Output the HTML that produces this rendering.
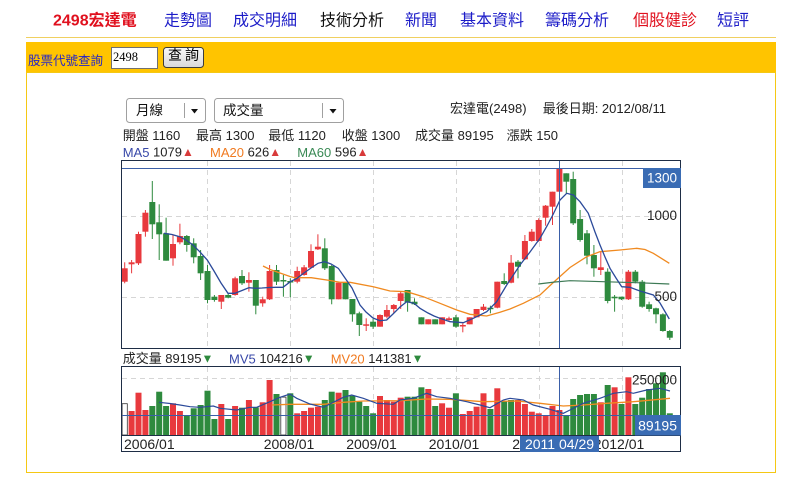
<!DOCTYPE html>
<html><head><meta charset="utf-8"><title>2498宏達電</title>
<style>
html,body{margin:0;padding:0;background:#fff;}
body{width:790px;height:482px;overflow:hidden;position:relative;}
svg{display:block;}
text{font-family:"Liberation Sans","Noto Sans CJK TC","DejaVu Sans",sans-serif;dominant-baseline:central;}
</style></head>
<body>
<svg id="s" width="790" height="482" viewBox="0 0 790 482" xmlns="http://www.w3.org/2000/svg">
<defs>
<linearGradient id="btn" x1="0" y1="0" x2="0" y2="1"><stop offset="0" stop-color="#fafafa"/><stop offset="1" stop-color="#d8d8d8"/></linearGradient>
</defs>
<rect width="790" height="482" fill="#fff"/>
<!-- nav -->
<g font-size="16">
<text x="53" y="21" fill="#e0101e" font-weight="bold">2498宏達電</text>
<text x="164" y="21" fill="#1c1cc8">走勢圖</text>
<text x="233" y="21" fill="#1c1cc8">成交明細</text>
<text x="320" y="21" fill="#111">技術分析</text>
<text x="405" y="21" fill="#1c1cc8">新聞</text>
<text x="460" y="21" fill="#1c1cc8">基本資料</text>
<text x="545" y="21" fill="#1c1cc8">籌碼分析</text>
<text x="633" y="21" fill="#e0101e">個股健診</text>
<text x="717" y="21" fill="#1c1cc8">短評</text>
</g>
<line x1="26" y1="37.5" x2="776" y2="37.5" stroke="#f0d060"/>
<rect x="26" y="42" width="750" height="31" fill="#ffc400"/>
<rect x="26.5" y="72.5" width="749" height="400" fill="none" stroke="#f5c814"/>
<text x="28" y="61" font-size="12.5" fill="#2424c8">股票代號查詢</text>
<rect x="111.5" y="47.5" width="46" height="21" fill="#fff" stroke="#707070"/>
<text x="113" y="57" font-size="12.5" fill="#000" style="font-family:'Liberation Serif',serif">2498</text>
<rect x="163.5" y="47.5" width="40" height="20" rx="3" fill="url(#btn)" stroke="#3c3c3c"/>
<text x="168" y="55" font-size="14" fill="#000">查</text>
<text x="185" y="55" font-size="14" fill="#000">詢</text>

<!-- selects -->
<rect x="126.5" y="98.5" width="79" height="24" rx="3" fill="#fff" stroke="#a0a0a0"/>
<line x1="184.5" y1="103" x2="184.5" y2="118" stroke="#a0a0a0"/>
<polygon points="191,109 198,109 194.5,113.5" fill="#111"/>
<text x="136" y="110.5" font-size="13.5" fill="#111">月線</text>
<rect x="214.5" y="98.5" width="129" height="24" rx="3" fill="#fff" stroke="#a0a0a0"/>
<line x1="322.5" y1="103" x2="322.5" y2="118" stroke="#a0a0a0"/>
<polygon points="329.5,109 336.5,109 333,113.5" fill="#111"/>
<text x="223" y="110.5" font-size="13.5" fill="#111">成交量</text>

<g font-size="13" fill="#222">
<text x="450" y="108.5">宏達電(2498)</text>
<text x="542.7" y="108.5">最後日期: 2012/08/11</text>
<text x="122.7" y="135.5">開盤 1160</text>
<text x="196" y="135.5">最高 1300</text>
<text x="268.3" y="135.5">最低 1120</text>
<text x="341.7" y="135.5">收盤 1300</text>
<text x="415" y="135.5">成交量 89195</text>
<text x="506.7" y="135.5">漲跌 150</text>
<text x="122.7" y="152"><tspan fill="#3848a8">MA5</tspan> 1079<tspan fill="#d83a3a" font-size="12">▲</tspan></text>
<text x="210" y="152"><tspan fill="#f07a20">MA20</tspan> 626<tspan fill="#d83a3a" font-size="12">▲</tspan></text>
<text x="297.3" y="152"><tspan fill="#3a8a55">MA60</tspan> 596<tspan fill="#d83a3a" font-size="12">▲</tspan></text>
<text x="122.7" y="358.5">成交量 89195<tspan fill="#2e8a3e" font-size="12">▼</tspan></text>
<text x="229" y="358.5"><tspan fill="#3848a8">MV5</tspan> 104216<tspan fill="#2e8a3e" font-size="12">▼</tspan></text>
<text x="330.7" y="358.5"><tspan fill="#f07a20">MV20</tspan> 141381<tspan fill="#2e8a3e" font-size="12">▼</tspan></text>
</g>

<!-- grids -->
<g stroke="#d6d6d6" stroke-dasharray="5,4" fill="none">
<path d="M207.5 161V348M290.5 161V348M373.5 161V348M456.5 161V348M539.5 161V348M622.5 161V348M122 216.5H680M122 297.5H680"/>
<path d="M207.5 367V435M290.5 367V435M373.5 367V435M456.5 367V435M539.5 367V435M622.5 367V435M122 378.5H680"/>
</g>
<g id="candles"></g>
<g id="vols"></g>
<!-- MA lines -->
<polyline fill="none" stroke="#f08a20" stroke-width="1.3" points="263,266 270,269.5 280,273 290,276.5 294.7,277.7 311.3,277.7 330,280.5 340,282.3 350,282.3 373.3,286.7 390,291 406.7,291.7 423.3,296.7 440,303.3 456.7,310 470,314.3 486.7,316 500,312.3 510,309 523.3,303.3 540,295 553.3,282.5 570,267.5 586.7,256.7 600,251.7 620,250 636.7,248.3 645,249.5 653.3,253.3 669.3,263.3"/>
<polyline fill="none" stroke="#3d7a55" stroke-width="1.2" points="538.3,284 555,282 570,280.7 603.3,281.7 636.7,282.7 669.3,284"/>
<polyline fill="none" stroke="#2b4a9a" stroke-width="1.3" points="164,233.3 172,234.5 179.7,236.7 186,240 193,245 199.7,251.7 207.3,260 214,271 221,283 228,293.3 234.7,293.3 242,290.5 249,287.7 255.7,288.3 262,288 269,287.5 276,287.3 283,287.3 290.3,281.7 297,278.3 304,273 311,268 318,263.3 324.7,261.7 331,264 338.3,268.3 345,278 352,288 360,305 366,312 373,318 380,320.7 386.7,320 393,314 400,307 406.7,301.7 414,303.3 420,308.3 428,313 434,316 440,318.3 450,321.7 463.3,322.7 473.3,318.3 486.7,311.7 496.7,301.7 506.7,285 520,265 530,252 540,238.3 547,226 553.3,214 560,200 566.7,193.3 573.3,195 580,201.7 588.3,213.3 595,232 600,245 605,257 610,268.3 616,278 621.7,286.7 630,287.3 640,291 653.3,295 660,303 669.3,319"/>
<!-- volume lines -->
<polyline fill="none" stroke="#f08a20" stroke-width="1.3" points="271.7,405 290,404.3 323.3,404.3 343.3,402.3 363.3,401 400,400.7 426.7,399 450,399.3 483.3,401.7 516.7,401 540,403.3 563.3,406 583.3,405 606.7,403.3 633.3,401.7 670,398.3"/>
<polyline fill="none" stroke="#2b4a9a" stroke-width="1.2" points="159,402.3 170,403.5 180,405 190,406.7 200,407.3 213.3,406 220,408.3 236.7,410 250,407.3 256.7,407.3 270,401.7 280,397.3 290,394 296.7,398.3 310,404 323.3,407.3 343.3,397.3 351.7,395 363.3,398.3 376.7,403.3 393.3,404.3 400,400 413.3,398.3 426.7,393.3 436.7,396.7 450,398.3 466.7,401.7 480,405 490,407.7 503.3,400 510,398.3 523.3,400 533.3,405 550,409.3 563.3,413.3 570,410 583.3,403.3 600,398.3 613.3,393.3 626.7,391.7 633.3,393.3 646.7,390 660,388.3 670,391"/>
<line x1="122" y1="415.5" x2="680" y2="415.5" stroke="#3a5fa8" stroke-width="1"/>

<!-- crosshair -->
<line x1="122" y1="168.5" x2="680" y2="168.5" stroke="#3a5fa8"/>
<line x1="559.5" y1="161" x2="559.5" y2="348" stroke="#3a5fa8"/>
<line x1="559.5" y1="367" x2="559.5" y2="451" stroke="#3a5fa8"/>

<!-- frames -->
<rect x="121.5" y="160.5" width="559" height="188" fill="none" stroke="#1e2d45"/>
<rect x="121.5" y="366.5" width="559" height="85" fill="none" stroke="#1e2d45"/>
<line x1="121.5" y1="435.5" x2="680.5" y2="435.5" stroke="#1e2d45"/>

<!-- axis labels -->
<g font-size="13.5" fill="#222" text-anchor="end">
<text x="677" y="215.7">1000</text>
<text x="677" y="296.5">500</text>
<text x="677" y="380">250000</text>
</g>
<rect x="643" y="168" width="38" height="20" fill="#3a6cb4"/>
<text x="677" y="178" font-size="13.5" fill="#fff" text-anchor="end">1300</text>
<rect x="635" y="415" width="46" height="20.5" fill="#3a6cb4"/>
<text x="677" y="425.5" font-size="14" fill="#fff" text-anchor="end">89195</text>

<g font-size="14" fill="#222">
<text x="124" y="444">2006/01</text>
<text x="289" y="444" text-anchor="middle">2008/01</text>
<text x="371.5" y="444" text-anchor="middle">2009/01</text>
<text x="454" y="444" text-anchor="middle">2010/01</text>
<text x="537" y="444" text-anchor="middle">2011/01</text>
<text x="619" y="444" text-anchor="middle">2012/01</text>
</g>
<rect x="520" y="436" width="79" height="16" fill="#3a6cb4"/>
<text x="559.5" y="444" font-size="14" fill="#fff" text-anchor="middle">2011 04/29</text>
</svg>
<script>
(function(){
var NS="http://www.w3.org/2000/svg";
var R="#e8393d",G="#2e8a3e";
var C=[[268.3,281.7,262.3,283.3,1],[262.3,264.3,260,273.3,1],[234,263.3,231.7,265,1],[212.7,231.7,210,236.7,1],[202,224.3,181,239,0],[222.3,234.3,204.3,260,0],[233.3,260.7,217.7,260.7,0],[244,258.3,235,265.7,1],[236,242.3,223.7,244.3,1],[236,245,235,251.7,0],[243.3,257.3,238.3,263.3,0],[256,273.3,250,280,0],[271,300,265,303.3,0],[296.7,300,295,301.7,0],[295,301.7,295,309,1],[295,297.7,293.3,298.3,0],[278.3,295,276.7,295.7,1],[276,283.3,270,285,0],[280,282.7,272.3,291.7,1],[280,305.7,280,314.3,0],[299.3,303.3,296.7,306.7,1],[271,299.3,265,300,1],[270,281.7,265,285,0],[280,281.3,275,296.7,0],[281,282.3,278.3,297.3,0],[271,281.7,266.7,283.3,1],[267.3,275,265,275.7,1],[251,267.7,244.3,268.3,1],[246.7,249.3,234.3,250,1],[248.3,268.3,238.3,270,0],[266,299.3,265,304.3,0],[282.7,299.3,282.7,299.3,1],[282.7,299.3,282.7,299.3,0],[299,314.3,299,321.7,0],[313.3,325,311.7,336,0],[324.3,325.7,318.3,331,1],[321.7,326.7,319,329,0],[315,326.7,314.3,326.7,1],[310,316.7,305,318.3,1],[305,309,304,313.3,1],[293.3,301,291,309,1],[290,302.3,290,311.7,0],[301.7,304.3,298.3,305,0],[317.3,324.3,317.3,324.3,0],[319.3,324.3,319.3,324.3,1],[319.3,324.3,319.3,324.3,0],[317.3,324.3,317.3,324.3,1],[318.3,320,316.7,321.7,1],[317.3,326.7,315,327.7,0],[325,326,323.3,332.3,1],[317.3,324.3,317.3,324.3,1],[309,317.3,309,317.3,1],[306.7,310,304,311,1],[307.7,308.3,305.7,313.3,0],[281.7,307.7,281.7,308.3,1],[281,284,273.3,285,0],[262.7,282.7,255,283.3,1],[261.7,266.7,260,278.3,0],[241,259.3,235,260,1],[231.7,241,229,241.7,1],[220,241,218.3,241.7,1],[205.7,217.7,205,225.7,1],[191.7,206.7,191.7,225,1],[168.3,191.7,168.3,191.7,1],[173.3,181.7,173.3,193.3,0],[179,223.3,171.7,225,0],[219,240,210,241.7,0],[233.3,255.7,230,264.3,0],[255,268.3,245,276.7,0],[267.3,270,251,275,1],[271.7,301,268.3,303.3,0],[296.7,298.3,295,311.7,0],[296.7,299.3,296.7,300,0],[271.7,299.3,270,300,1],[271.7,281.7,270,283.3,0],[281.7,306.7,280,307.7,0],[304.3,309,301.7,311.7,0],[308.3,314.3,307.7,323.3,0],[314.3,331,313.3,331.7,0],[331,337.7,330,340,0]];
var V=[[403.3,2],[411,1],[392.7,1],[410,1],[406,0],[391.7,0],[406,0],[403.3,1],[411,1],[415,0],[408.3,0],[405,0],[390.7,0],[419,0],[404,1],[419,0],[406,1],[407.7,0],[400,1],[407.3,0],[402.3,1],[380,1],[394,0],[396.7,2],[393.3,0],[413.3,1],[411,1],[407.7,1],[406.7,1],[400,0],[391.7,0],[392.7,1],[390,0],[395.7,0],[401.7,0],[406,0],[413.3,0],[396,1],[400,1],[401.7,1],[397.7,1],[396.7,0],[396.7,0],[387.3,0],[389,1],[406,0],[403.3,1],[407.7,1],[393.3,0],[414,1],[411,1],[406.7,1],[393.3,1],[409,0],[388.3,1],[401,0],[400,0],[400,1],[404,1],[411.7,1],[413.3,1],[415,1],[406,1],[410,1],[415,0],[399,0],[395,0],[394,0],[394,0],[402.3,1],[385,0],[387.3,1],[404,0],[377.3,1],[404,0],[397.7,0],[389,0],[383.3,0],[372.3,0],[413.3,0]];
function r(p,x,y,w,h,f,st){var e=document.createElementNS(NS,"rect");e.setAttribute("x",x);e.setAttribute("y",y);e.setAttribute("width",w);e.setAttribute("height",h);e.setAttribute("fill",f);if(st){e.setAttribute("stroke",st);e.setAttribute("stroke-width","0.8");}p.appendChild(e);}
var gc=document.getElementById("candles"),gv=document.getElementById("vols");
for(var i=0;i<80;i++){
 var cx=124.7+6.9*i;
 var c=C[i],col=c[4]?R:G;
 r(gc,(cx-0.5).toFixed(2),c[2],1,Math.max(1,c[3]-c[2]),col);
 r(gc,(cx-3).toFixed(2),c[0],6,Math.max(1.5,c[1]-c[0]),col);
 var v=V[i];
 if(v[1]==2){r(gv,(cx-2.6).toFixed(2),v[0]+0.4,5.2,435-v[0]-0.4,"#fff","#333");}
 else r(gv,(cx-3).toFixed(2),v[0],6,435-v[0],v[1]?R:G);
}
})();
</script>
</body></html>
